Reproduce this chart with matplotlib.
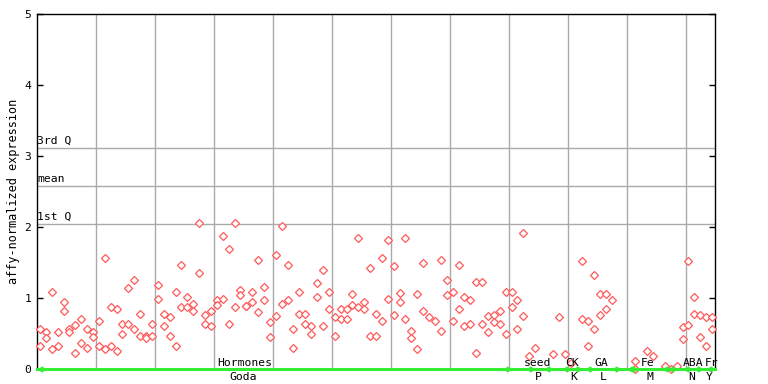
import matplotlib
matplotlib.use("Agg")
import matplotlib.pyplot as plt
from matplotlib.transforms import blended_transform_factory

# ---- data (sample index, expression) ----
hormone_idx = list(range(0, 83))
hormone_a = [0.56, 0.52, 1.09, 0.52, 0.95, 0.56, 0.62, 0.71, 0.56, 0.52,
             0.67, 1.56, 0.88, 0.84, 0.63, 1.14, 1.25, 0.78, 0.47, 0.64,
             1.19, 0.77, 0.73, 1.08, 1.46, 1.02, 0.92, 2.05, 0.76,
             0.81, 0.97, 1.87, 1.69, 2.05, 1.11, 0.89, 1.08, 1.53, 1.16,
             0.66, 1.60, 2.02, 1.47, 0.56, 1.09, 0.78, 0.61, 1.21, 1.39,
             1.09, 0.73, 0.85, 0.84, 1.05, 1.85, 0.94, 1.42, 0.78,
             1.56, 1.81, 1.45, 1.07, 1.85, 0.54, 1.05, 1.50, 0.73, 0.67,
             1.54, 1.26, 1.08, 1.47, 1.02, 0.97, 1.23, 1.23, 0.74, 0.76,
             0.81, 1.08, 1.08, 0.97, 1.91]
hormone_b = [0.32, 0.43, 0.28, 0.32, 0.81, 0.52, 0.22, 0.37, 0.29, 0.45,
             0.32, 0.28, 0.33, 0.25, 0.49, 0.63, 0.57, 0.47, 0.43, 0.47,
             0.99, 0.61, 0.47, 0.33, 0.88, 0.87, 0.81, 1.35, 0.64,
             0.61, 0.90, 0.99, 0.64, 0.88, 1.04, 0.89, 0.94, 0.80, 0.97,
             0.45, 0.74, 0.92, 0.97, 0.29, 0.78, 0.64, 0.49, 1.01, 0.60,
             0.85, 0.46, 0.71, 0.71, 0.90, 0.87, 0.84, 0.46, 0.46,
             0.67, 0.99, 0.76, 0.95, 0.70, 0.43, 0.28, 0.81, None, None,
             0.54, 1.04, 0.67, 0.84, 0.61, 0.63, 0.22, 0.63, 0.52, 0.66,
             0.64, 0.49, 0.87, 0.57, 0.74]

other_idx = [83, 84, 87, 88, 89, 90, 92, 92, 93, 93, 94, 94, 95, 95, 96, 96, 97,
             101, 101, 103, 104, 106, 107, 108, 109, 109, 110, 110, 111, 111,
             112, 112, 113, 113, 114, 114]
other_val = [0.18, 0.29, 0.21, 0.73, 0.21, 0.08, 1.52, 0.70, 0.67, 0.33, 1.33, 0.56,
             1.05, 0.76, 1.05, 0.84, 0.97,
             0.11, 0.0, 0.25, 0.18, 0.04, 0.0, 0.04, 0.59, 0.42, 1.52, 0.62,
             1.02, 0.78, 0.76, 0.45, 0.73, 0.33, 0.73, 0.57]

q1, mean_v, q3 = 2.04, 2.58, 3.11
ref_labels = ["1st Q", "mean", "3rd Q"]
yticks = [0, 1, 2, 3, 4, 5]

group_top = [("Hormones", 34.7), ("seed", 84.4), ("CK", 90.3), ("GA", 95.2),
             ("Fe", 103.0), ("ABA", 110.8), ("Fr", 114.0)]
group_bot = [("Goda", 34.4), ("P", 84.5), ("K", 90.6), ("L", 95.5),
             ("M", 103.5), ("N", 110.5), ("Y", 113.5)]

# ---- figure ----
mono = "DejaVu Sans Mono"
fs = 8.2
fig = plt.figure(figsize=(7.68, 3.84), dpi=100)
ax = fig.add_axes([37/768, 15/384, (715-37)/768, (369-14)/384])
ax.set_xlim(-0.5, 114.5)
ax.set_ylim(0, 5)

grid_c = "#aaaaaa"
for gx in [9.5 + 10*k for k in range(11)]:
    ax.axvline(gx, color=grid_c, lw=1.0, zorder=1)
for yv in (q1, mean_v, q3):
    ax.axhline(yv, color=grid_c, lw=1.0, zorder=1)
for lab, yv in zip(ref_labels, (q1, mean_v, q3)):
    ax.text(-0.45, yv + 0.03, lab, fontsize=fs, family=mono, va="bottom", ha="left")

red = "#ff5a5a"
xs, ys = [], []
for i, a, b in zip(hormone_idx, hormone_a, hormone_b):
    for v in (a, b):
        if v is not None:
            xs.append(i); ys.append(v)
xs += other_idx
ys += other_val
ax.plot(xs, ys, linestyle="none", marker="D", markersize=4.0,
        markerfacecolor="white", markeredgecolor=red, markeredgewidth=0.9,
        zorder=3, clip_on=False)

# green baseline
green = "#33ee33"
ax.plot([-0.5, 114.5], [0, 0], color=green, lw=2.2, zorder=4, clip_on=False)
for mx, mk in [(0, "<"), (79.5, ">"), (83.5, ">"), (86, "<"), (89, "<"), (91.5, ">"),
               (93, "<"), (98, ">"), (100, "<"), (101, ">"), (106, "<"), (107.5, ">"),
               (109.5, "<"), (112, ">"), (113.5, "<")]:
    ax.plot(mx, 0.0, marker=mk, color=green, markersize=3.5, zorder=4, clip_on=False)

trans = blended_transform_factory(ax.transData, ax.transAxes)
for lab, x in group_top:
    ax.text(x, 0.0177, lab, fontsize=fs, family=mono, ha="center", va="center",
            transform=trans, zorder=5)
for lab, x in group_bot:
    ax.text(x, -0.0217, lab, fontsize=fs, family=mono, ha="center", va="center",
            transform=trans, clip_on=False)

ax.set_yticks(yticks)
ax.set_yticklabels([str(t) for t in yticks], family=mono, fontsize=fs)
ax.tick_params(axis="y", direction="in", length=4, width=1, pad=4,
               right=True, labelright=False)
ax.set_xticks([])
for s in ax.spines.values():
    s.set_linewidth(1.0)
    s.set_color("black")
ax.set_ylabel("affy-normalized expression", family=mono, fontsize=8.6, labelpad=3)
fig.savefig("out.png", dpi=100)
